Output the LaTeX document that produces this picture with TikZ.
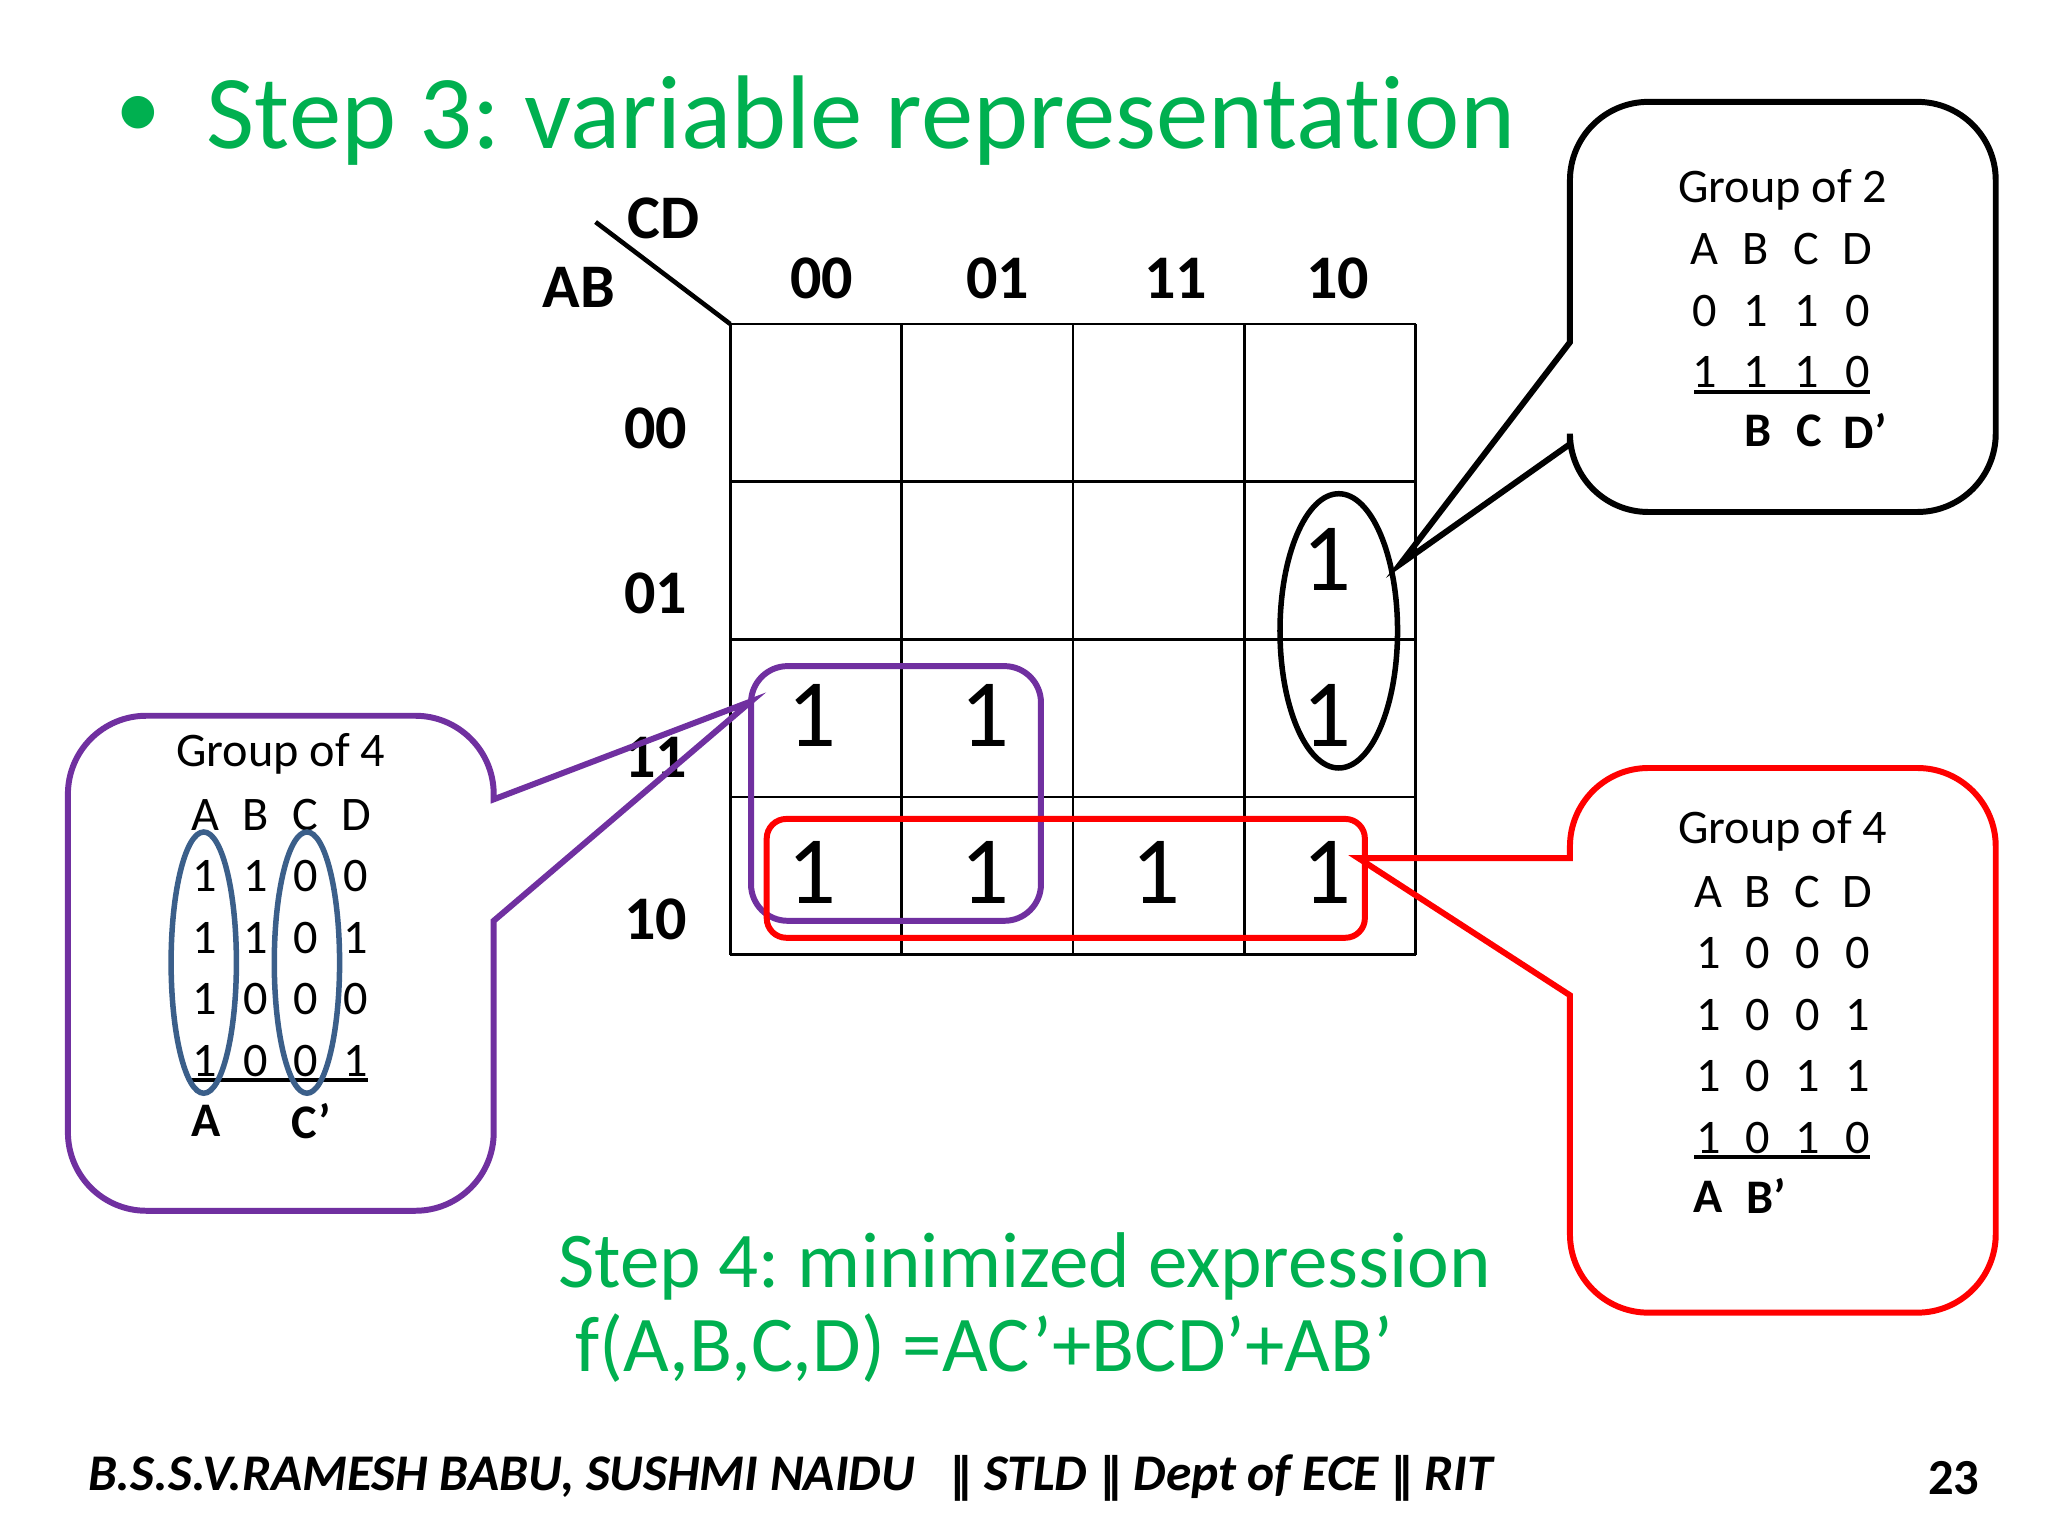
\documentclass[tikz,border=0pt]{standalone}
\usepackage{fontspec}
\setmainfont{Carlito}[Ligatures=NoCommon]
\newfontfamily\dv{DejaVu Sans}
\definecolor{sgreen}{HTML}{00B050}
\definecolor{purp}{HTML}{7030A0}
\definecolor{bblue}{HTML}{3B5F8A}
\frenchspacing
\begin{document}
\begin{tikzpicture}[x=0.01cm,y=-0.01cm,
  hd/.style={font=\fontsize{13.5}{14}\selectfont\bfseries},
  one/.style={font=\fontsize{21}{22}\selectfont},
  ct/.style={font=\fontsize{10.5}{11}\selectfont},
  cb/.style={font=\fontsize{10.5}{11}\selectfont\bfseries}]
\useasboundingbox (0,0) rectangle (1568,1176);
\node[text=sgreen,font=\fontsize{20}{22}\selectfont] (bul) at (106,90) {•};
\node[text=sgreen,font=\fontsize{22.8}{24}\selectfont,anchor=west] (title) at (146,92) {Step 3: variable representation};
% grid
\foreach \x in {559,690.25,821.5,952.75,1084}{\draw[line width=0.6pt] (\x,248) -- (\x,731);}
\foreach \y in {248,368.75,489.5,610.25,731}{\draw[line width=0.6pt] (559,\y) -- (1084,\y);}
\draw[line width=1pt] (456,170) -- (559,248);
\node[hd] (cd) at (508,167) {CD};
\node[hd] (ab) at (443,220) {AB};
\foreach \t/\x in {00/629,01/764,11/900,10/1024}{\node[hd] at (\x,213) {\t};}
\foreach \t/\y in {00/328,01/454,11/580,10/704}{\node[hd] at (502,\y) {\t};}
\foreach \x/\y in {622/548,754/548,622/668,754/668,885/668,1016/668,1016/428,1016/548}{\node[one] at (\x,\y) {1};}
\draw[line width=1.2pt] (1025,483) ellipse [x radius=45,y radius=105];
\draw[purp,line width=1.3pt,rounded corners=0.28cm] (575,510) rectangle (797,705);
\draw[red,line width=1.3pt,rounded corners=0.15cm] (587,627) rectangle (1045,718);
% callout top right
\draw[line width=1.3pt] (1072,432) -- (1202,262) [rounded corners=0.6cm] -- (1202,78) -- (1528,78) -- (1528,392) -- (1202,392) [sharp corners] -- (1202,340) -- cycle;
% callout left purple
\draw[purp,line width=1.3pt] (575,537) -- (378,612) [rounded corners=0.6cm] -- (378,548) -- (52,548) -- (52,927) -- (378,927) [sharp corners] -- (378,705) -- cycle;
% callout red
\draw[red,line width=1.3pt] (1040,657) -- (1202,657) [rounded corners=0.6cm] -- (1202,588) -- (1528,588) -- (1528,1005) -- (1202,1005) [sharp corners] -- (1202,762) -- cycle;
% top right text
\node[ct] at (1365,145) {Group of 2};
\foreach \r/\y in {{A,B,C,D}/191,{0,1,1,0}/238,{1,1,1,0}/285}{
  \foreach \c [count=\i] in \r {\node[ct] at ({1305+(\i-1)*39},\y) {\c};}}
\draw[line width=0.8pt] (1297,300) -- (1432,300);
\node[cb] at (1346,330) {B};\node[cb] at (1385,330) {C};\node[cb] at (1428,330) {D’};
% red text
\node[ct] at (1365,636) {Group of 4};
\foreach \r/\y in {{A,B,C,D}/683,{1,0,0,0}/730,{1,0,0,1}/777,{1,0,1,1}/824,{1,0,1,0}/871}{
  \foreach \c [count=\i] in \r {\node[ct] at ({1308+(\i-1)*38},\y) {\c};}}
\draw[line width=0.8pt] (1297,886) -- (1432,886);
\node[cb] at (1308,916) {A};\node[cb] at (1352,916) {B’};
% purple text
\node[ct] at (215,577) {Group of 4};
\foreach \r/\y in {{A,B,C,D}/624,{1,1,0,0}/671,{1,1,0,1}/718,{1,0,0,0}/765,{1,0,0,1}/812}{
  \foreach \c [count=\i] in \r {\node[ct] at ({157+(\i-1)*38.5},\y) {\c};}}
\draw[line width=0.8pt] (145,827) -- (282,827);
\node[cb] at (158,858) {A};\node[cb] at (238,858) {C’};
\draw[bblue,line width=1.2pt] (156,737) ellipse [x radius=25,y radius=100];
\draw[bblue,line width=1.2pt] (235,737) ellipse [x radius=25,y radius=100];
% step 4
\node[text=sgreen,font=\fontsize{17.2}{18}\selectfont,anchor=west] (s4) at (415,970) {Step 4: minimized expression};
\node[text=sgreen,font=\fontsize{17.2}{18}\selectfont,anchor=west] (f) at (428,1032) {f(A,B,C,D) =AC’+BCD’+AB’};
% footer
\node[anchor=west,font=\fontsize{11.2}{12}\selectfont\bfseries\itshape] (ft) at (55,1132) {B.S.S.V.RAMESH BABU, SUSHMI NAIDU \ \ {\dv\fontsize{10}{10}\selectfont‖} STLD {\dv\fontsize{10}{10}\selectfont‖} Dept of ECE {\dv\fontsize{10}{10}\selectfont‖} RIT};
\node[font=\fontsize{11}{11}\selectfont\bfseries] (pg) at (1496,1132) {23};
\end{tikzpicture}
\end{document}
